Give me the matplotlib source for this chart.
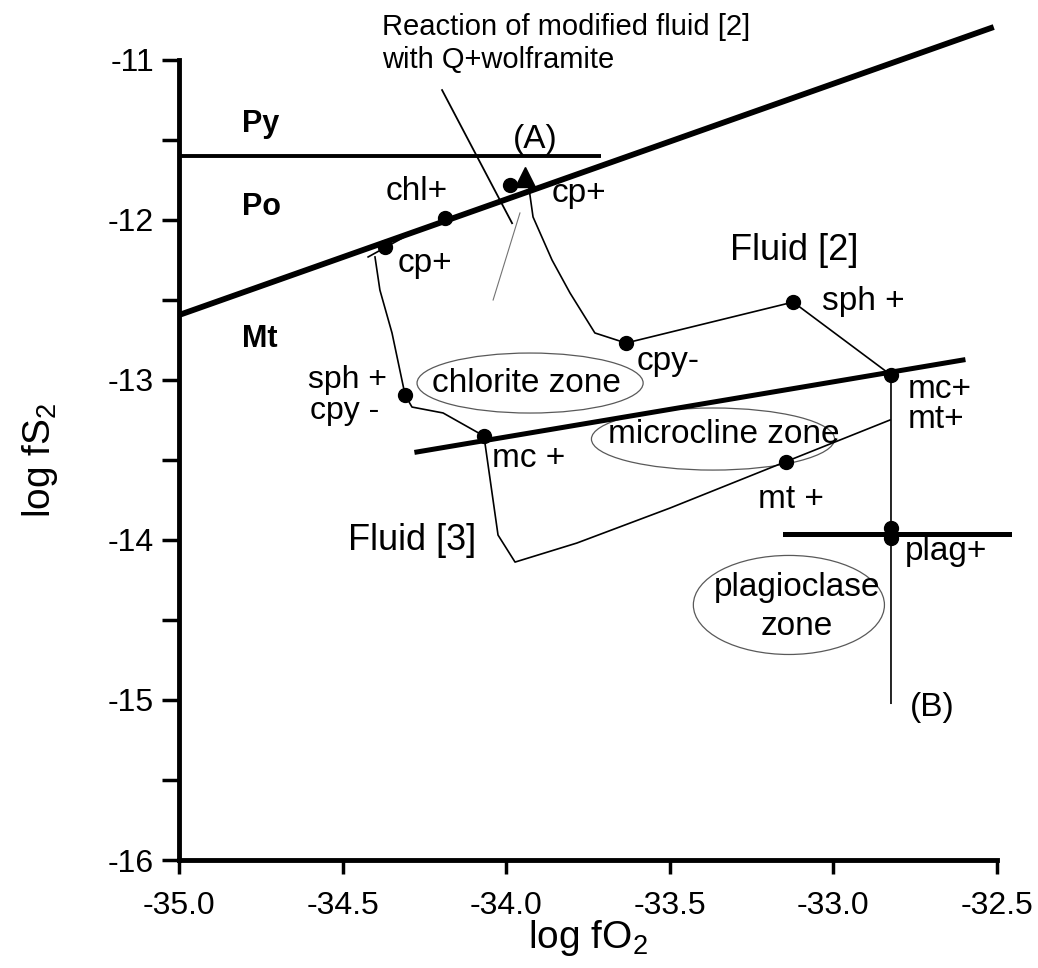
import matplotlib
matplotlib.use("Agg")
import matplotlib.pyplot as plt
from matplotlib.patches import Ellipse

plt.rcParams['font.family'] = ['Liberation Sans', 'DejaVu Sans']
plt.rcParams['mathtext.default'] = 'regular'

# phase boundaries (log fO2, log fS2)
py_po_x = [-35.0, -33.71]
py_po_y = [-11.60, -11.60]
po_mt_x = [-35.0, -32.51]
po_mt_y = [-12.594, -10.794]
mc_x = [-34.273, -32.604]
mc_y = [-13.45, -12.875]
plag_x = [-33.148, -32.463]
plag_y = [-13.962, -13.962]

# fluid [2] path: from (A) down to (B)
fl2_x = [-33.933, -33.918, -33.860, -33.805, -33.729, -33.634, -33.123, -32.824, -32.824]
fl2_y = [-11.763, -11.981, -12.250, -12.456, -12.706, -12.769, -12.513, -12.969, -15.02]

# fluid [3] path
fl3_x = [-34.401, -34.386, -34.349, -34.309, -34.288, -34.193, -34.068,
         -34.025, -33.973, -33.784, -33.499, -33.145, -32.827]
fl3_y = [-12.231, -12.438, -12.706, -13.094, -13.169, -13.206, -13.350,
         -13.969, -14.138, -14.019, -13.800, -13.510, -13.250]
fl3_tick_x = [-34.422, -34.273]
fl3_tick_y = [-12.231, -12.063]

# reaction of modified fluid [2] with Q+wolframite
react_x = [-34.196, -33.982]
react_y = [-11.188, -12.020]
react2_x = [-33.958, -34.040]
react2_y = [-11.956, -12.500]

# marked points
pts_x = [-34.370, -34.187, -33.988, -33.634, -33.123, -32.824,
         -34.309, -34.068, -33.145, -32.824, -32.824]
pts_y = [-12.169, -11.988, -11.780, -12.769, -12.513, -12.969,
         -13.094, -13.350, -13.510, -13.925, -13.985]
tri_x = [-33.943]
tri_y = [-11.73]

# zones (center x, center y, width, height)
zones = [
    (-33.927, -13.019, 0.691, 0.375),
    (-33.368, -13.369, 0.743, 0.388),
    (-33.136, -14.406, 0.584, 0.619),
]

# labels: text, x, y, size, weight
labels = [
    ('Py', -34.807, -11.45, 22, 'bold'),
    ('Po', -34.807, -11.969, 22, 'bold'),
    ('Mt', -34.807, -12.794, 22, 'bold'),
    ('chl+', -34.370, -11.875, 24, 'normal'),
    ('cp+', -34.331, -12.325, 24, 'normal'),
    ('(A)', -33.979, -11.55, 24, 'normal'),
    ('cp+', -33.860, -11.888, 24, 'normal'),
    ('Fluid [2]', -33.316, -12.25, 26, 'normal'),
    ('sph +', -33.035, -12.563, 24, 'normal'),
    ('cpy-', -33.600, -12.938, 24, 'normal'),
    ('mc+', -32.772, -13.113, 24, 'normal'),
    ('mt+', -32.772, -13.30, 24, 'normal'),
    ('sph +', -34.606, -13.05, 23, 'normal'),
    ('cpy -', -34.600, -13.245, 23, 'normal'),
    ('chlorite zone', -34.227, -13.075, 24, 'normal'),
    ('mc +', -34.043, -13.544, 24, 'normal'),
    ('microcline zone', -33.689, -13.394, 24, 'normal'),
    ('mt +', -33.230, -13.80, 24, 'normal'),
    ('Fluid [3]', -34.483, -14.063, 26, 'normal'),
    ('plag+', -32.781, -14.125, 24, 'normal'),
    ('(B)', -32.766, -15.10, 24, 'normal'),
    ('Reaction of modified fluid [2]', -34.380, -10.844, 21, 'normal'),
    ('with Q+wolframite', -34.380, -11.05, 21, 'normal'),
]

xticks = [-35.0, -34.5, -34.0, -33.5, -33.0, -32.5]
yticks = [-16, -15, -14, -13, -12, -11]
yminor = [-15.5, -14.5, -13.5, -12.5, -11.5]

fig = plt.figure(figsize=(10.38, 9.68), dpi=100)
ax = fig.add_axes([0.17245, 0.11157, 0.78805, 0.82645])
ax.set_xlim(-35.0, -32.5)
ax.set_ylim(-16, -11)

ax.plot(py_po_x, py_po_y, color='black', lw=2.8, clip_on=False, solid_capstyle='butt')
ax.plot(po_mt_x, po_mt_y, color='black', lw=4.2, clip_on=False, solid_capstyle='butt')
ax.plot(mc_x, mc_y, color='black', lw=3.6, clip_on=False)
ax.plot(plag_x, plag_y, color='black', lw=3.6, clip_on=False)

ax.plot(fl2_x, fl2_y, color='black', lw=1.2, clip_on=False)
ax.plot(fl3_x, fl3_y, color='black', lw=1.2, clip_on=False)
ax.plot(fl3_tick_x, fl3_tick_y, color='black', lw=1.2, clip_on=False)
ax.plot(react_x, react_y, color='black', lw=1.3, clip_on=False)
ax.plot(react2_x, react2_y, color='0.45', lw=0.8, clip_on=False)

for cx, cy, w, h in zones:
    ax.add_patch(Ellipse((cx, cy), w, h, fill=False, edgecolor='0.35', lw=0.9))

ax.plot(pts_x, pts_y, 'o', color='black', ms=10, clip_on=False)
ax.plot(tri_x, tri_y, '^', color='black', ms=14, clip_on=False)

for txt, x, y, size, weight in labels:
    ax.text(x, y, txt, fontsize=size, fontweight=weight, ha='left', va='baseline')

ax.text(-33.111, -14.35, 'plagioclase', fontsize=24, ha='center', va='baseline')
ax.text(-33.111, -14.594, 'zone', fontsize=24, ha='center', va='baseline')

for s in ['top', 'right']:
    ax.spines[s].set_visible(False)
for s in ['left', 'bottom']:
    ax.spines[s].set_linewidth(3.5)

ax.set_xticks(xticks)
ax.set_xticklabels(['%.1f' % v for v in xticks])
ax.set_yticks(yticks)
ax.set_yticklabels(['%d' % v for v in yticks])
ax.set_yticks(yminor, minor=True)
ax.tick_params(axis='both', which='both', direction='out', width=2.5, labelsize=23)
ax.tick_params(axis='y', which='major', length=12, pad=6)
ax.tick_params(axis='y', which='minor', length=12)
ax.tick_params(axis='x', which='major', length=10, pad=12)

ax.set_xlabel('log fO$_2$', fontsize=28, va='top')
ax.xaxis.set_label_coords(0.5, -0.072)
ax.set_ylabel('log fS$_2$', fontsize=28)
ax.yaxis.set_label_coords(-0.145, 0.5)

fig.savefig('out.png', dpi=100)
